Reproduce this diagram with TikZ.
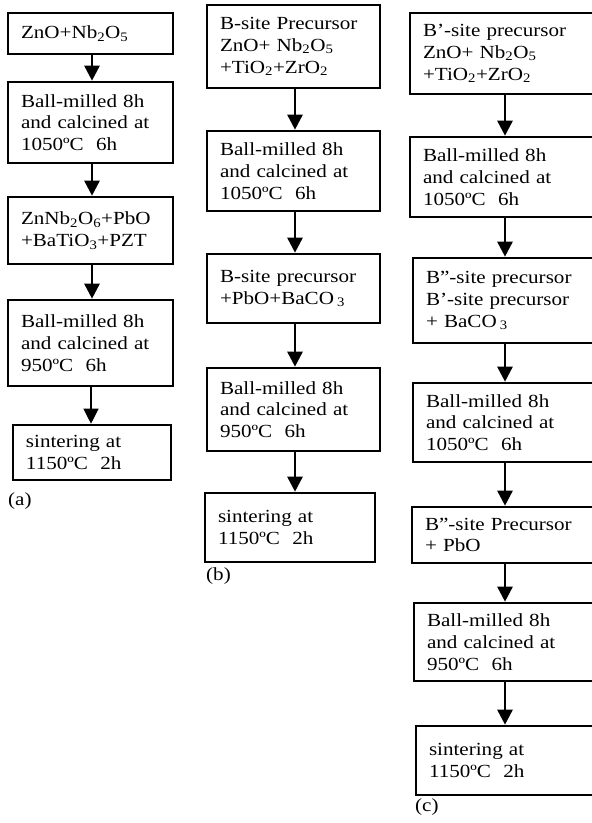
\documentclass[tikz,border=0pt]{standalone}
\usepackage{fontspec}
\setmainfont[FakeStretch=1.14]{Liberation Serif}
\usetikzlibrary{arrows.meta}
\newcommand\sbx[1]{\textsubscript{#1}}
\newcommand\flowbox[6]{%
  \pgfmathsetmacro\bw{#4-#2}%
  \pgfmathsetmacro\bh{#5-#3}%
  \pgfmathsetmacro\tw{#4-#2-26}%
  \node[procbox, minimum width=\bw pt, minimum height=\bh pt, text width=\tw pt]
    (#1) at ({(#2+#4)/2},{(#3+#5)/2}) {#6};}
\begin{document}
\begin{tikzpicture}[x=1pt,y=-1pt,
  procbox/.style={draw, line width=2.6pt, rectangle, inner xsep=13pt, inner ysep=0pt,
    align=left, font=\fontsize{18.5}{21.8}\selectfont},
  arr/.style={line width=2.6pt, -{Triangle[width=15pt,length=15pt]}},
  thinarr/.style={line width=1.2pt, -{Triangle[width=15pt,length=15pt]}},
  lab/.style={anchor=west, inner sep=0pt, font=\fontsize{18.5}{21.8}\selectfont}]
\clip (0,0) rectangle (592,823);
\fill[white] (0,0) rectangle (592,823);
% column (a)
\flowbox{a1}{8}{13}{173}{54}{ZnO+Nb\sbx{2}O\sbx{5}}
\flowbox{a2}{8}{82}{173}{163}{Ball-milled 8h\\and calcined at\\1050ºC\ \ 6h}
\flowbox{a3}{8}{197}{173}{264}{ZnNb\sbx{2}O\sbx{6}+PbO\\+BaTiO\sbx{3}+PZT}
\flowbox{a4}{8}{300}{173}{386}{Ball-milled 8h\\and calcined at\\950ºC\ \ 6h}
\flowbox{a5}{13}{425}{171}{480}{sintering at\\1150ºC\ \ 2h}
\node[lab] (la) at (8,501) {(a)};
% column (b)
\flowbox{b1}{207}{5}{380}{88}{B-site Precursor\\ZnO+ Nb\sbx{2}O\sbx{5}\\+TiO\sbx{2}+ZrO\sbx{2}}
\flowbox{b2}{207}{131}{380}{211}{Ball-milled 8h\\and calcined at\\1050ºC\ \ 6h}
\flowbox{b3}{207}{254}{380}{323}{B-site precursor\\+PbO+BaCO\,\sbx{3}}
\flowbox{b4}{207}{368}{380}{451}{Ball-milled 8h\\and calcined at\\950ºC\ \ 6h}
\flowbox{b5}{205}{493}{375}{562}{sintering at\\1150ºC\ \ 2h}
\node[lab] (lb) at (206,576) {(b)};
% column (c)
\flowbox{c1}{410}{13}{600}{94}{B’-site precursor\\ZnO+ Nb\sbx{2}O\sbx{5}\\+TiO\sbx{2}+ZrO\sbx{2}}
\flowbox{c2}{410}{137}{600}{217}{Ball-milled 8h\\and calcined at\\1050ºC\ \ 6h}
\flowbox{c3}{413}{258}{600}{343}{B”-site precursor\\B’-site precursor\\+ BaCO\,\sbx{3}}
\flowbox{c4}{413}{383}{600}{462}{Ball-milled 8h\\and calcined at\\1050ºC\ \ 6h}
\flowbox{c5}{412}{507}{600}{563}{B”-site Precursor\\+ PbO}
\flowbox{c6}{414}{603}{600}{681}{Ball-milled 8h\\and calcined at\\950ºC\ \ 6h}
\flowbox{c7}{416}{726}{600}{795}{sintering at\\1150ºC\ \ 2h}
\node[lab] (lc) at (415,807) {(c)};
% arrows
\coordinate (ax) at (92,0);
\coordinate (axt) at (91,0);
\coordinate (bx) at (295,0);
\coordinate (cx) at (505,0);
\draw[arr] (a1.south -| ax) -- (a2.north -| ax);
\draw[arr] (a2.south -| ax) -- (a3.north -| ax);
\draw[arr] (a3.south -| ax) -- (a4.north -| ax);
\draw[thinarr] (a4.south -| axt) -- (a5.north -| axt);
\draw[arr] (b1.south -| bx) -- (b2.north -| bx);
\draw[arr] (b2.south -| bx) -- (b3.north -| bx);
\draw[arr] (b3.south -| bx) -- (b4.north -| bx);
\draw[arr] (b4.south -| bx) -- (b5.north -| bx);
\draw[arr] (c1.south -| cx) -- (c2.north -| cx);
\draw[arr] (c2.south -| cx) -- (c3.north -| cx);
\draw[arr] (c3.south -| cx) -- (c4.north -| cx);
\draw[arr] (c4.south -| cx) -- (c5.north -| cx);
\draw[arr] (c5.south -| cx) -- (c6.north -| cx);
\draw[arr] (c6.south -| cx) -- (c7.north -| cx);
\end{tikzpicture}
\end{document}
